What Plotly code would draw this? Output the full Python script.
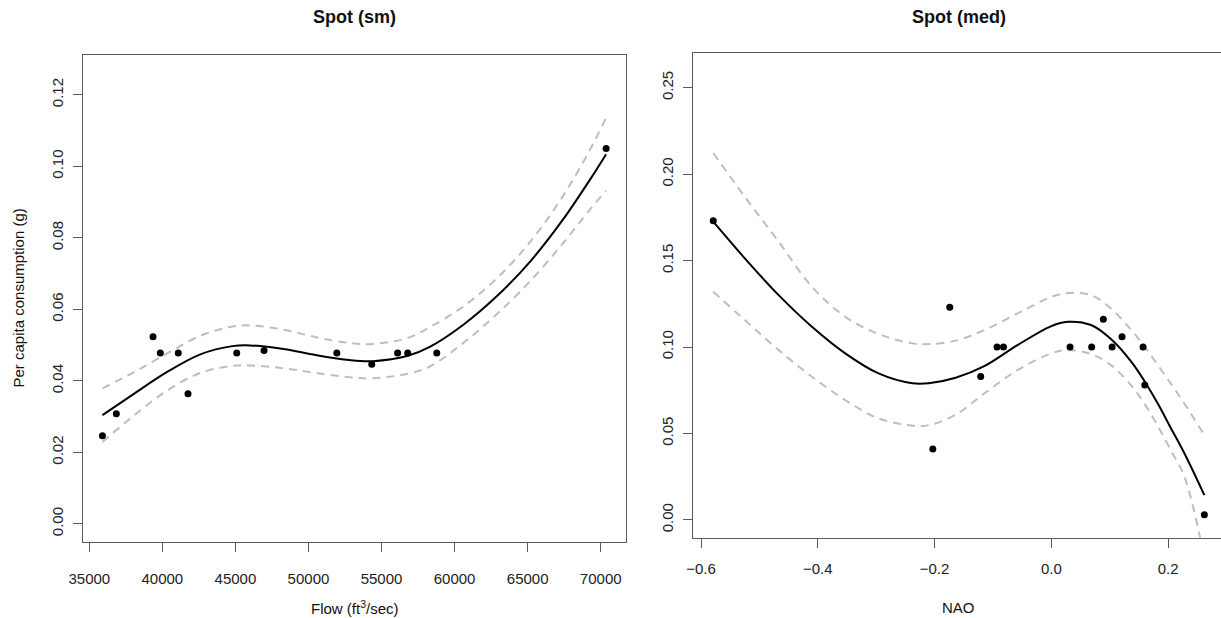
import plotly.graph_objects as go

W, H = 1221, 618
FONT = "Liberation Sans, Arial, Helvetica, sans-serif"

# ---- Spot (sm): per capita consumption vs. river flow ----
flow = [35900, 36850, 39360, 39860, 41090, 41755, 45090, 46960, 51940, 54330, 56100, 56790, 58780, 70370]
cons_sm = [0.0246, 0.0308, 0.0523, 0.0478, 0.0478, 0.0364, 0.0478, 0.0485, 0.0478, 0.0446, 0.0478, 0.0478, 0.0478, 0.1050]

# fitted curve and confidence limits (sm)
fit_flow = [35900, 38000, 40300, 42600, 44800, 46000, 48300, 50500, 52800, 54400,
            56800, 58300, 60600, 62900, 65200, 67400, 69300, 70370]
fit_sm = [0.0304, 0.0362, 0.0424, 0.0474, 0.0497, 0.0499, 0.0489, 0.0472, 0.0458, 0.0455,
          0.0470, 0.0495, 0.0557, 0.0637, 0.0735, 0.0850, 0.0965, 0.1034]
upr_sm = [0.0379, 0.0423, 0.0476, 0.0526, 0.0552, 0.0555, 0.0543, 0.0522, 0.0506, 0.0503,
          0.0520, 0.0550, 0.0608, 0.0687, 0.0790, 0.0916, 0.1049, 0.1136]
lwr_sm = [0.0229, 0.0301, 0.0372, 0.0422, 0.0442, 0.0443, 0.0435, 0.0422, 0.0410, 0.0407,
          0.0420, 0.0440, 0.0506, 0.0587, 0.0680, 0.0784, 0.0881, 0.0932]

# ---- Spot (med): per capita consumption vs. NAO ----
nao = [-0.579, -0.203, -0.174, -0.121, -0.093, -0.082, 0.032, 0.069, 0.089, 0.104, 0.121, 0.157, 0.160, 0.262]
cons_med = [0.173, 0.041, 0.123, 0.083, 0.100, 0.100, 0.100, 0.100, 0.116, 0.100, 0.106, 0.100, 0.078, 0.003]

fit_nao = [-0.579, -0.525, -0.467, -0.410, -0.353, -0.296, -0.238, -0.210, -0.164, -0.115, -0.058,
           0.000, 0.028, 0.068, 0.102, 0.137, 0.159, 0.182, 0.205, 0.228, 0.262]
fit_med = [0.1725, 0.1513, 0.1300, 0.1117, 0.0963, 0.0847, 0.0790, 0.0790, 0.0822, 0.0889, 0.1011,
           0.1121, 0.1146, 0.1127, 0.1046, 0.0914, 0.0805, 0.0674, 0.0529, 0.0384, 0.0143]
upr_med = [0.2122, 0.1869, 0.1609, 0.1348, 0.1175, 0.1075, 0.1021, 0.1017, 0.1036, 0.1098, 0.1194,
           0.1290, 0.1312, 0.1300, 0.1223, 0.1098, 0.1005, 0.0897, 0.0786, 0.0672, 0.0490]
lwr_med = [0.1319, 0.1156, 0.0982, 0.0828, 0.0693, 0.0587, 0.0545, 0.0548, 0.0608, 0.0731, 0.0866,
           0.0963, 0.0982, 0.0960, 0.0895, 0.0777, 0.0674, 0.0545, 0.0400, 0.0249, -0.0220]

# ---- tick labels ----
flow_ticks = [35000, 40000, 45000, 50000, 55000, 60000, 65000, 70000]
flow_tick_text = ["35000", "40000", "45000", "50000", "55000", "60000", "65000", "70000"]
sm_ticks = [0.00, 0.02, 0.04, 0.06, 0.08, 0.10, 0.12]
sm_tick_text = ["0.00", "0.02", "0.04", "0.06", "0.08", "0.10", "0.12"]
nao_ticks = [-0.6, -0.4, -0.2, 0.0, 0.2]
nao_tick_text = ["\u22120.6", "\u22120.4", "\u22120.2", "0.0", "0.2"]
med_ticks = [0.00, 0.05, 0.10, 0.15, 0.20, 0.25]
med_tick_text = ["0.00", "0.05", "0.10", "0.15", "0.20", "0.25"]


def fx(p):
    return p / W


def fy(p):
    return 1 - p / H


DASH = dict(color="#bebebe", width=2, dash="8px,6px")
SOLID = dict(color="black", width=2)

fig = go.Figure()


def add_panel(xs, ys, cx, cfit, cupr, clwr, xa, ya):
    fig.add_trace(go.Scatter(x=cx, y=cupr, mode="lines", line=DASH, line_shape="spline",
                             xaxis=xa, yaxis=ya, hoverinfo="skip"))
    fig.add_trace(go.Scatter(x=cx, y=clwr, mode="lines", line=DASH, line_shape="spline",
                             xaxis=xa, yaxis=ya, hoverinfo="skip"))
    fig.add_trace(go.Scatter(x=cx, y=cfit, mode="lines", line=SOLID, line_shape="spline",
                             xaxis=xa, yaxis=ya))
    fig.add_trace(go.Scatter(x=xs, y=ys, mode="markers",
                             marker=dict(color="black", size=7, line=dict(width=0)),
                             xaxis=xa, yaxis=ya))


add_panel(flow, cons_sm, fit_flow, fit_sm, upr_sm, lwr_sm, "x", "y")
add_panel(nao, cons_med, fit_nao, fit_med, upr_med, lwr_med, "x2", "y2")

LINE = "#5a5a5a"
tickfont = dict(family=FONT, size=15, color="#222")
common = dict(showgrid=False, zeroline=False, showline=True, linecolor=LINE, linewidth=1,
              ticks="outside", ticklen=9, tickcolor=LINE, tickwidth=1,
              tickfont=tickfont, automargin=False, fixedrange=True)

fig.update_layout(
    width=W, height=H,
    margin=dict(l=0, r=0, t=0, b=0),
    paper_bgcolor="white", plot_bgcolor="white",
    showlegend=False,
    xaxis=dict(domain=[fx(82.9), fx(626)], range=[34562, 71730], anchor="y",
               tickvals=flow_ticks, ticktext=flow_tick_text, mirror=True,
               ticklabelstandoff=14, **common),
    yaxis=dict(domain=[fy(542.1), fy(55)], range=[-0.00512, 0.13114], anchor="x",
               tickvals=sm_ticks, ticktext=sm_tick_text, mirror=True, tickangle=-90,
               ticklabelstandoff=4, **common),
    xaxis2=dict(domain=[fx(693.3), 1.0], range=[-0.6132, 0.2905], anchor="y2",
                tickvals=nao_ticks, ticktext=nao_tick_text, mirror=True,
                ticklabelstandoff=8, **common),
    yaxis2=dict(domain=[fy(537.5), fy(52.6)], range=[-0.0102, 0.2703], anchor="x2",
                tickvals=med_ticks, ticktext=med_tick_text, mirror=False, tickangle=-90,
                ticklabelstandoff=4, **common),
)

annots = [
    dict(text="<b>Spot (sm)</b>", x=fx(354.5), y=fy(17), size=18),
    dict(text="<b>Spot (med)</b>", x=fx(959), y=fy(17), size=18),
    dict(text="Flow (ft<sup>3</sup>/sec)", x=fx(355), y=fy(607), size=15),
    dict(text="NAO", x=fx(958), y=fy(607), size=15),
]
for a in annots:
    fig.add_annotation(text=a["text"], x=a["x"], y=a["y"], xref="paper", yref="paper",
                       xanchor="center", yanchor="middle", showarrow=False,
                       font=dict(family=FONT, size=a["size"], color="#111"))

fig.add_annotation(text="Per capita consumption (g)", x=fx(18), y=fy(298.5),
                   xref="paper", yref="paper", xanchor="center", yanchor="middle",
                   textangle=-90, showarrow=False,
                   font=dict(family=FONT, size=15, color="#111"))

fig.write_html("out.html")
